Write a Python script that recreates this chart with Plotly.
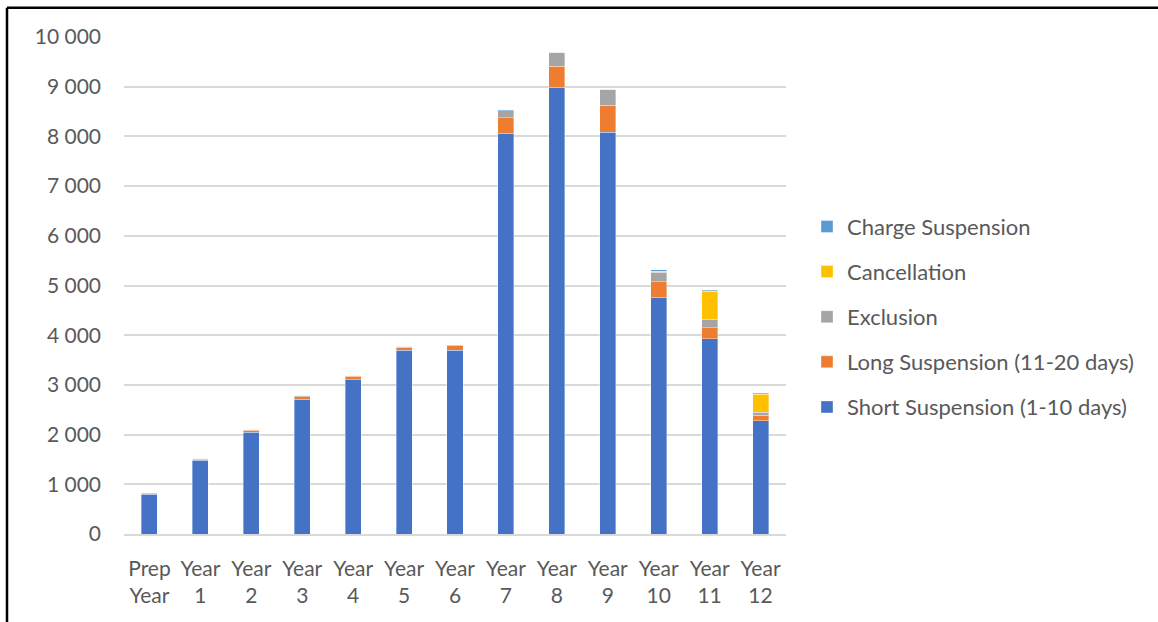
import plotly.graph_objects as go

categories = ["Prep<br>Year", "Year<br>1", "Year<br>2", "Year<br>3", "Year<br>4", "Year<br>5",
              "Year<br>6", "Year<br>7", "Year<br>8", "Year<br>9", "Year<br>10", "Year<br>11", "Year<br>12"]

short_susp = [800, 1480, 2045, 2715, 3105, 3695, 3700, 8060, 8990, 8080, 4760, 3930, 2280]
long_susp = [20, 25, 40, 50, 65, 60, 100, 320, 420, 550, 315, 220, 110]
exclusion = [10, 15, 20, 25, 20, 25, 10, 140, 280, 315, 190, 175, 60]
cancellation = [0, 0, 0, 0, 0, 0, 0, 0, 0, 0, 25, 555, 360]
charge_susp = [0, 0, 0, 0, 0, 0, 0, 20, 15, 15, 25, 20, 20]

series = [
    ("Short Suspension (1-10 days)", short_susp, "#4472C4"),
    ("Long Suspension (11-20 days)", long_susp, "#ED7D31"),
    ("Exclusion", exclusion, "#A5A5A5"),
    ("Cancellation", cancellation, "#FFC000"),
    ("Charge Suspension", charge_susp, "#5B9BD5"),
]

W, H = 1158, 622
L, R, T, B = 124, 786, 37.3, 534.3

def px_x(px):
    return (px - L) / (R - L)

def px_y(py):
    return (B - py) / (B - T)

FONT = "Lato, 'Open Sans', sans-serif"

fig = go.Figure()
n = len(series)
for i, (name, vals, color) in enumerate(series):
    fig.add_trace(go.Bar(
        x=categories, y=vals, name=name, legendgroup=name, legendrank=n - i,
        marker=dict(color=color, line=dict(color="rgba(255,255,255,0.6)", width=0.6)),
    ))

fig.update_layout(
    width=W, height=H,
    barmode="stack", bargap=0.685,
    separators=". ",
    paper_bgcolor="white", plot_bgcolor="white",
    margin=dict(l=L, r=W - R, t=T, b=H - B, pad=0),
    font=dict(family=FONT, size=21, color="#595959"),
    legend=dict(
        x=px_x(807), y=px_y(317), xanchor="left", yanchor="middle",
        traceorder="grouped", tracegroupgap=13.5,
        font=dict(family=FONT, size=22, color="#595959"),
        bgcolor="rgba(0,0,0,0)",
    ),
    xaxis=dict(
        showgrid=False, showline=True, linecolor="#d9d9d9", linewidth=1.5,
        ticks="", tickfont=dict(size=21, color="#595959"), ticklabelstandoff=15,
    ),
    yaxis=dict(
        range=[0, 10000], dtick=1000, tickformat=",d",
        showgrid=True, gridcolor="#d9d9d9", gridwidth=1.5,
        zeroline=False, showline=False, ticks="",
        tickfont=dict(size=21, color="#595959"), ticklabelstandoff=22,
    ),
    shapes=[
        dict(type="line", xref="paper", yref="paper",
             x0=px_x(7), x1=px_x(W + 5), y0=px_y(8), y1=px_y(8),
             line=dict(color="black", width=2.5)),
        dict(type="line", xref="paper", yref="paper",
             x0=px_x(7), x1=px_x(7), y0=px_y(8), y1=px_y(H + 5),
             line=dict(color="black", width=2.5)),
    ],
)

fig.write_html("out.html")
